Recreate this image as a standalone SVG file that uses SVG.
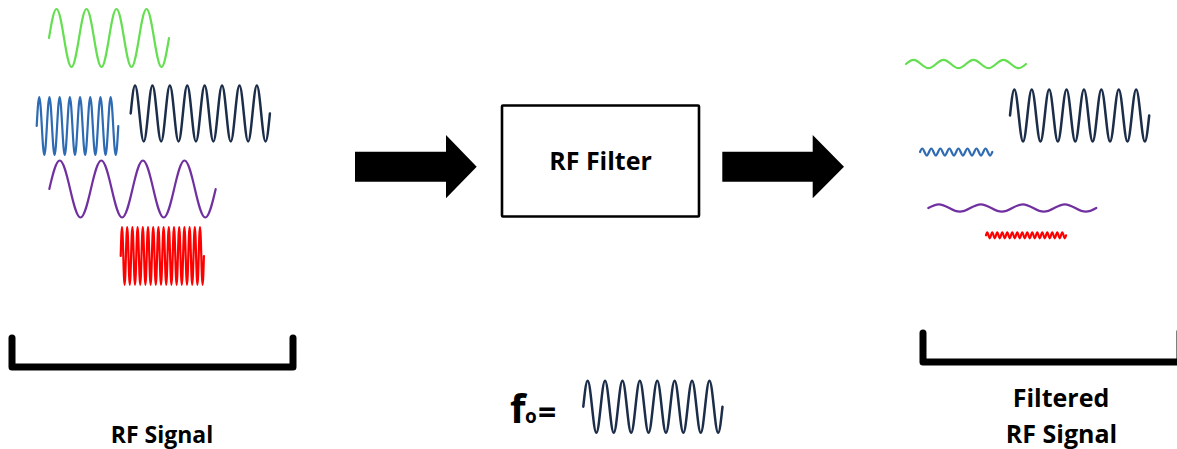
<svg xmlns="http://www.w3.org/2000/svg" width="1177" height="449" viewBox="0 0 1177 449">
<style>
.w{fill:none;stroke-width:2.2;stroke-linejoin:round;stroke-linecap:round}
.g{stroke:#63df4f}.b{stroke:#2e6bb3}.n{stroke:#1c2d4a;stroke-width:2.5}.p{stroke:#7030a0}.r{stroke:#ff0000}
.t{font-family:"Open Sans",Lato,"Liberation Sans",sans-serif;font-weight:bold;fill:#000}
.br{fill:none;stroke:#000;stroke-width:7;stroke-linecap:round;stroke-linejoin:round}
</style>
<g id="input-waves">
<path class="w g" d="M49,38 c2.45,-14.85 4.79,-29 7.5,-29 s5.05,14.15 7.5,29 s4.79,29 7.5,29 s5.05,-14.15 7.5,-29 s4.79,-29 7.5,-29 s5.05,14.15 7.5,29 s4.79,29 7.5,29 s5.05,-14.15 7.5,-29 s4.79,-29 7.5,-29 s5.05,14.15 7.5,29 s4.79,29 7.5,29 s5.05,-14.15 7.5,-29 s4.79,-29 7.5,-29 s5.05,14.15 7.5,29 s4.79,29 7.5,29 s5.05,-14.15 7.5,-29"/>
<path class="w b" d="M36.7,126 c0.83,-14.85 1.63,-29 2.55,-29 s1.72,14.15 2.55,29 s1.63,29 2.55,29 s1.72,-14.15 2.55,-29 s1.63,-29 2.55,-29 s1.72,14.15 2.55,29 s1.63,29 2.55,29 s1.72,-14.15 2.55,-29 s1.63,-29 2.55,-29 s1.72,14.15 2.55,29 s1.63,29 2.55,29 s1.72,-14.15 2.55,-29 s1.63,-29 2.55,-29 s1.72,14.15 2.55,29 s1.63,29 2.55,29 s1.72,-14.15 2.55,-29 s1.63,-29 2.55,-29 s1.72,14.15 2.55,29 s1.63,29 2.55,29 s1.72,-14.15 2.55,-29 s1.63,-29 2.55,-29 s1.72,14.15 2.55,29 s1.63,29 2.55,29 s1.72,-14.15 2.55,-29 s1.63,-29 2.55,-29 s1.72,14.15 2.55,29 s1.63,29 2.55,29 s1.72,-14.15 2.55,-29 s1.63,-29 2.55,-29 s1.72,14.15 2.55,29 s1.63,29 2.55,29 s1.72,-14.15 2.55,-29"/>
<path class="w n" d="M130.7,113.5 c1.42,-14.34 2.78,-28 4.35,-28 s2.93,13.66 4.35,28 s2.78,28 4.35,28 s2.93,-13.66 4.35,-28 s2.78,-28 4.35,-28 s2.93,13.66 4.35,28 s2.78,28 4.35,28 s2.93,-13.66 4.35,-28 s2.78,-28 4.35,-28 s2.93,13.66 4.35,28 s2.78,28 4.35,28 s2.93,-13.66 4.35,-28 s2.78,-28 4.35,-28 s2.93,13.66 4.35,28 s2.78,28 4.35,28 s2.93,-13.66 4.35,-28 s2.78,-28 4.35,-28 s2.93,13.66 4.35,28 s2.78,28 4.35,28 s2.93,-13.66 4.35,-28 s2.78,-28 4.35,-28 s2.93,13.66 4.35,28 s2.78,28 4.35,28 s2.93,-13.66 4.35,-28 s2.78,-28 4.35,-28 s2.93,13.66 4.35,28 s2.78,28 4.35,28 s2.93,-13.66 4.35,-28 s2.78,-28 4.35,-28 s2.93,13.66 4.35,28 s2.78,28 4.35,28 s2.93,-13.66 4.35,-28"/>
<path class="w p" d="M49.3,189 c3.39,-14.6 6.64,-28.5 10.4,-28.5 s7.01,13.9 10.4,28.5 s6.64,28.5 10.4,28.5 s7.01,-13.9 10.4,-28.5 s6.64,-28.5 10.4,-28.5 s7.01,13.9 10.4,28.5 s6.64,28.5 10.4,28.5 s7.01,-13.9 10.4,-28.5 s6.64,-28.5 10.4,-28.5 s7.01,13.9 10.4,28.5 s6.64,28.5 10.4,28.5 s7.01,-13.9 10.4,-28.5 s6.64,-28.5 10.4,-28.5 s7.01,13.9 10.4,28.5 s6.64,28.5 10.4,28.5 s7.01,-13.9 10.4,-28.5"/>
<path class="w r" d="M120.7,256 c0.42,-14.85 0.83,-29 1.3,-29 s0.88,14.15 1.3,29 s0.83,29 1.3,29 s0.88,-14.15 1.3,-29 s0.83,-29 1.3,-29 s0.88,14.15 1.3,29 s0.83,29 1.3,29 s0.88,-14.15 1.3,-29 s0.83,-29 1.3,-29 s0.88,14.15 1.3,29 s0.83,29 1.3,29 s0.88,-14.15 1.3,-29 s0.83,-29 1.3,-29 s0.88,14.15 1.3,29 s0.83,29 1.3,29 s0.88,-14.15 1.3,-29 s0.83,-29 1.3,-29 s0.88,14.15 1.3,29 s0.83,29 1.3,29 s0.88,-14.15 1.3,-29 s0.83,-29 1.3,-29 s0.88,14.15 1.3,29 s0.83,29 1.3,29 s0.88,-14.15 1.3,-29 s0.83,-29 1.3,-29 s0.88,14.15 1.3,29 s0.83,29 1.3,29 s0.88,-14.15 1.3,-29 s0.83,-29 1.3,-29 s0.88,14.15 1.3,29 s0.83,29 1.3,29 s0.88,-14.15 1.3,-29 s0.83,-29 1.3,-29 s0.88,14.15 1.3,29 s0.83,29 1.3,29 s0.88,-14.15 1.3,-29 s0.83,-29 1.3,-29 s0.88,14.15 1.3,29 s0.83,29 1.3,29 s0.88,-14.15 1.3,-29 s0.83,-29 1.3,-29 s0.88,14.15 1.3,29 s0.83,29 1.3,29 s0.88,-14.15 1.3,-29 s0.83,-29 1.3,-29 s0.88,14.15 1.3,29 s0.83,29 1.3,29 s0.88,-14.15 1.3,-29 s0.83,-29 1.3,-29 s0.88,14.15 1.3,29 s0.83,29 1.3,29 s0.88,-14.15 1.3,-29 s0.83,-29 1.3,-29 s0.88,14.15 1.3,29 s0.83,29 1.3,29 s0.88,-14.15 1.3,-29 s0.83,-29 1.3,-29 s0.88,14.15 1.3,29 s0.83,29 1.3,29 s0.88,-14.15 1.3,-29 s0.83,-29 1.3,-29 s0.88,14.15 1.3,29 s0.83,29 1.3,29 s0.88,-14.15 1.3,-29"/>
</g>
<g id="input-bracket">
<path class="br" d="M12,338 V367 H293 V338"/>
<text class="t" x="162" y="443" font-size="23" text-anchor="middle">RF Signal</text>
</g>
<g id="connectors">
<polygon points="355,151.7 446,151.7 446,135 476.7,166.7 446,198.3 446,181.7 355,181.7" fill="#000"/>
<polygon points="722.3,151.7 812.7,151.7 812.7,135 844,166.7 812.7,198.3 812.7,181.7 722.3,181.7" fill="#000"/>
</g>
<g id="rf-filter">
<rect x="502" y="105.5" width="197" height="111" rx="1" fill="#fff" stroke="#000" stroke-width="2.6"/>
<text class="t" x="600.5" y="170" font-size="25" text-anchor="middle">RF Filter</text>
</g>
<g id="center-frequency">
<text class="t" x="510" y="423" font-size="40">f</text>
<text class="t" x="525" y="423" font-size="19">o</text>
<text class="t" x="538" y="424" font-size="32">=</text>
<path class="w n" d="M583.3,406.7 c1.42,-13.32 2.78,-26 4.35,-26 s2.93,12.68 4.35,26 s2.78,26 4.35,26 s2.93,-12.68 4.35,-26 s2.78,-26 4.35,-26 s2.93,12.68 4.35,26 s2.78,26 4.35,26 s2.93,-12.68 4.35,-26 s2.78,-26 4.35,-26 s2.93,12.68 4.35,26 s2.78,26 4.35,26 s2.93,-12.68 4.35,-26 s2.78,-26 4.35,-26 s2.93,12.68 4.35,26 s2.78,26 4.35,26 s2.93,-12.68 4.35,-26 s2.78,-26 4.35,-26 s2.93,12.68 4.35,26 s2.78,26 4.35,26 s2.93,-12.68 4.35,-26 s2.78,-26 4.35,-26 s2.93,12.68 4.35,26 s2.78,26 4.35,26 s2.93,-12.68 4.35,-26 s2.78,-26 4.35,-26 s2.93,12.68 4.35,26 s2.78,26 4.35,26 s2.93,-12.68 4.35,-26 s2.78,-26 4.35,-26 s2.93,12.68 4.35,26 s2.78,26 4.35,26 s2.93,-12.68 4.35,-26"/>
</g>
<g id="output-waves">
<path class="w g" d="M906,64 c2.45,-2.15 4.79,-4.2 7.5,-4.2 s5.05,2.05 7.5,4.2 s4.79,4.2 7.5,4.2 s5.05,-2.05 7.5,-4.2 s4.79,-4.2 7.5,-4.2 s5.05,2.05 7.5,4.2 s4.79,4.2 7.5,4.2 s5.05,-2.05 7.5,-4.2 s4.79,-4.2 7.5,-4.2 s5.05,2.05 7.5,4.2 s4.79,4.2 7.5,4.2 s5.05,-2.05 7.5,-4.2 s4.79,-4.2 7.5,-4.2 s5.05,2.05 7.5,4.2 s4.79,4.2 7.5,4.2 s5.05,-2.05 7.5,-4.2"/>
<path class="w n" d="M1010,115.5 c1.42,-13.32 2.78,-26 4.35,-26 s2.93,12.68 4.35,26 s2.78,26 4.35,26 s2.93,-12.68 4.35,-26 s2.78,-26 4.35,-26 s2.93,12.68 4.35,26 s2.78,26 4.35,26 s2.93,-12.68 4.35,-26 s2.78,-26 4.35,-26 s2.93,12.68 4.35,26 s2.78,26 4.35,26 s2.93,-12.68 4.35,-26 s2.78,-26 4.35,-26 s2.93,12.68 4.35,26 s2.78,26 4.35,26 s2.93,-12.68 4.35,-26 s2.78,-26 4.35,-26 s2.93,12.68 4.35,26 s2.78,26 4.35,26 s2.93,-12.68 4.35,-26 s2.78,-26 4.35,-26 s2.93,12.68 4.35,26 s2.78,26 4.35,26 s2.93,-12.68 4.35,-26 s2.78,-26 4.35,-26 s2.93,12.68 4.35,26 s2.78,26 4.35,26 s2.93,-12.68 4.35,-26 s2.78,-26 4.35,-26 s2.93,12.68 4.35,26 s2.78,26 4.35,26 s2.93,-12.68 4.35,-26"/>
<path class="w b" d="M920,152 c0.74,-1.79 1.44,-3.5 2.26,-3.5 s1.52,1.71 2.26,3.5 s1.44,3.5 2.26,3.5 s1.52,-1.71 2.26,-3.5 s1.44,-3.5 2.26,-3.5 s1.52,1.71 2.26,3.5 s1.44,3.5 2.26,3.5 s1.52,-1.71 2.26,-3.5 s1.44,-3.5 2.26,-3.5 s1.52,1.71 2.26,3.5 s1.44,3.5 2.26,3.5 s1.52,-1.71 2.26,-3.5 s1.44,-3.5 2.26,-3.5 s1.52,1.71 2.26,3.5 s1.44,3.5 2.26,3.5 s1.52,-1.71 2.26,-3.5 s1.44,-3.5 2.26,-3.5 s1.52,1.71 2.26,3.5 s1.44,3.5 2.26,3.5 s1.52,-1.71 2.26,-3.5 s1.44,-3.5 2.26,-3.5 s1.52,1.71 2.26,3.5 s1.44,3.5 2.26,3.5 s1.52,-1.71 2.26,-3.5 s1.44,-3.5 2.26,-3.5 s1.52,1.71 2.26,3.5 s1.44,3.5 2.26,3.5 s1.52,-1.71 2.26,-3.5 s1.44,-3.5 2.26,-3.5 s1.52,1.71 2.26,3.5 s1.44,3.5 2.26,3.5 s1.52,-1.71 2.26,-3.5"/>
<path class="w p" d="M928.3,208 c3.42,-1.9 6.7,-3.7 10.5,-3.7 s7.08,1.8 10.5,3.7 s6.7,3.7 10.5,3.7 s7.08,-1.8 10.5,-3.7 s6.7,-3.7 10.5,-3.7 s7.08,1.8 10.5,3.7 s6.7,3.7 10.5,3.7 s7.08,-1.8 10.5,-3.7 s6.7,-3.7 10.5,-3.7 s7.08,1.8 10.5,3.7 s6.7,3.7 10.5,3.7 s7.08,-1.8 10.5,-3.7 s6.7,-3.7 10.5,-3.7 s7.08,1.8 10.5,3.7 s6.7,3.7 10.5,3.7 s7.08,-1.8 10.5,-3.7"/>
<path class="w r" d="M986,235.3 c0.4,-1.54 0.8,-3 1.25,-3 s0.85,1.46 1.25,3 s0.8,3 1.25,3 s0.85,-1.46 1.25,-3 s0.8,-3 1.25,-3 s0.85,1.46 1.25,3 s0.8,3 1.25,3 s0.85,-1.46 1.25,-3 s0.8,-3 1.25,-3 s0.85,1.46 1.25,3 s0.8,3 1.25,3 s0.85,-1.46 1.25,-3 s0.8,-3 1.25,-3 s0.85,1.46 1.25,3 s0.8,3 1.25,3 s0.85,-1.46 1.25,-3 s0.8,-3 1.25,-3 s0.85,1.46 1.25,3 s0.8,3 1.25,3 s0.85,-1.46 1.25,-3 s0.8,-3 1.25,-3 s0.85,1.46 1.25,3 s0.8,3 1.25,3 s0.85,-1.46 1.25,-3 s0.8,-3 1.25,-3 s0.85,1.46 1.25,3 s0.8,3 1.25,3 s0.85,-1.46 1.25,-3 s0.8,-3 1.25,-3 s0.85,1.46 1.25,3 s0.8,3 1.25,3 s0.85,-1.46 1.25,-3 s0.8,-3 1.25,-3 s0.85,1.46 1.25,3 s0.8,3 1.25,3 s0.85,-1.46 1.25,-3 s0.8,-3 1.25,-3 s0.85,1.46 1.25,3 s0.8,3 1.25,3 s0.85,-1.46 1.25,-3 s0.8,-3 1.25,-3 s0.85,1.46 1.25,3 s0.8,3 1.25,3 s0.85,-1.46 1.25,-3 s0.8,-3 1.25,-3 s0.85,1.46 1.25,3 s0.8,3 1.25,3 s0.85,-1.46 1.25,-3 s0.8,-3 1.25,-3 s0.85,1.46 1.25,3 s0.8,3 1.25,3 s0.85,-1.46 1.25,-3 s0.8,-3 1.25,-3 s0.85,1.46 1.25,3 s0.8,3 1.25,3 s0.85,-1.46 1.25,-3 s0.8,-3 1.25,-3 s0.85,1.46 1.25,3 s0.8,3 1.25,3 s0.85,-1.46 1.25,-3 s0.8,-3 1.25,-3 s0.85,1.46 1.25,3 s0.8,3 1.25,3 s0.85,-1.46 1.25,-3"/>
</g>
<g id="output-bracket">
<path class="br" d="M923,333 V362 H1180 V332"/>
<text class="t" x="1061" y="407" font-size="25" text-anchor="middle">Filtered</text>
<text class="t" x="1061.5" y="443" font-size="25" text-anchor="middle">RF Signal</text>
</g>
</svg>
